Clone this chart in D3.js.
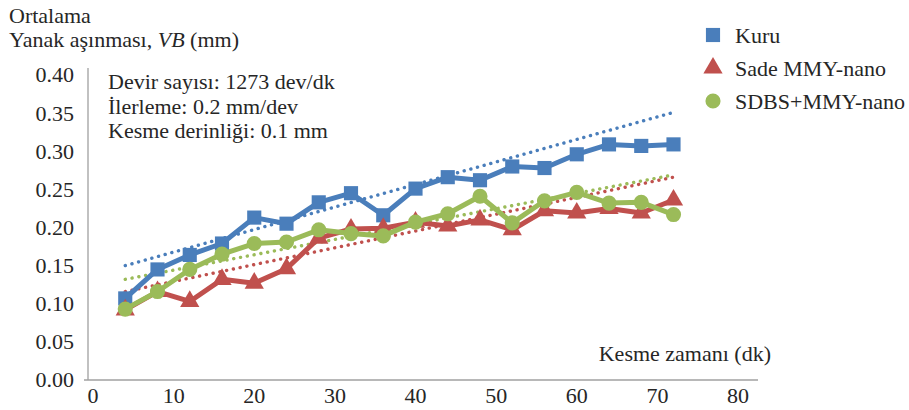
<!DOCTYPE html>
<html>
<head>
<meta charset="utf-8">
<script src="https://cdn.jsdelivr.net/npm/d3@7"></script>
<style>
    body { margin: 0; background: #fff; }
</style>
</head>
<body>
<div id="chart"></div>
<script>

//******************************************************************************
//**  Data
//******************************************************************************
var times = [4, 8, 12, 16, 20, 24, 28, 32, 36, 40, 44, 48, 52, 56, 60, 64, 68, 72];
var kuru = [0.107, 0.145, 0.164, 0.179, 0.213, 0.205, 0.233, 0.245, 0.216, 0.251, 0.266, 0.262, 0.280, 0.278, 0.296, 0.309, 0.307, 0.309];
var sade = [0.092, 0.116, 0.103, 0.132, 0.127, 0.146, 0.186, 0.198, 0.199, 0.207, 0.202, 0.210, 0.197, 0.222, 0.219, 0.225, 0.219, 0.236];
var sdbs = [0.093, 0.116, 0.145, 0.165, 0.179, 0.181, 0.197, 0.192, 0.189, 0.207, 0.218, 0.241, 0.206, 0.235, 0.246, 0.232, 0.233, 0.217];
var seriesNames = ["Kuru", "Sade MMY-nano", "SDBS+MMY-nano"];

//trend line end values (at first and last time) as drawn in the figure
var kuruTrend = [0.150, 0.351];
var sadeTrend = [0.116, 0.266];
var sdbsTrend = [0.132, 0.269];

var xTicks = [0, 10, 20, 30, 40, 50, 60, 70, 80];
var yTicks = [0, 0.05, 0.10, 0.15, 0.20, 0.25, 0.30, 0.35, 0.40];
var notes = ["Devir sayısı: 1273 dev/dk", "İlerleme: 0.2 mm/dev", "Kesme derinliği: 0.1 mm"];

var series = [
    {name: seriesNames[0], values: kuru, trend: kuruTrend, color: "#4a7ebb", symbol: d3.symbolSquare, size: 200},
    {name: seriesNames[1], values: sade, trend: sadeTrend, color: "#c0504d", symbol: d3.symbolTriangle, size: 160},
    {name: seriesNames[2], values: sdbs, trend: sdbsTrend, color: "#9bbb59", symbol: d3.symbolCircle, size: 180}
];


//******************************************************************************
//**  Chart
//******************************************************************************
var width = 909, height = 410;
var font = "'Liberation Serif', 'Times New Roman', serif";

var svg = d3.select("#chart").append("svg")
    .attr("width", width)
    .attr("height", height);

var x = d3.scaleLinear().domain([0, 80]).range([93, 738]);
var y = d3.scaleLinear().domain([0, 0.4]).range([380, 75]);

var addText = function(g){
    return g.append("text")
        .style("font-family", font)
        .style("font-size", "22px")
        .style("fill", "#262626");
};


  //Axis lines
    svg.append("line")
        .attr("x1", 88).attr("x2", 88)
        .attr("y1", 68).attr("y2", y(0))
        .style("stroke", "#a0a0a0").style("stroke-width", 1.3);

    svg.append("line")
        .attr("x1", 84).attr("x2", 758)
        .attr("y1", y(0)).attr("y2", y(0))
        .style("stroke", "#a0a0a0").style("stroke-width", 1.3);


  //Tick labels
    yTicks.forEach(function(d){
        addText(svg)
            .attr("x", 74)
            .attr("y", y(d))
            .attr("dy", "0.34em")
            .attr("text-anchor", "end")
            .text(d3.format(".2f")(d));
    });

    xTicks.forEach(function(d){
        addText(svg)
            .attr("x", x(d))
            .attr("y", 403)
            .attr("text-anchor", "middle")
            .text(d);
    });


  //Axis titles
    addText(svg)
        .attr("x", 9).attr("y", 23)
        .text("Ortalama");

    var yTitle = addText(svg)
        .attr("x", 9).attr("y", 47);
    yTitle.append("tspan").text("Yanak aşınması, ");
    yTitle.append("tspan").style("font-style", "italic").text("VB");
    yTitle.append("tspan").text(" (mm)");

    addText(svg)
        .attr("x", 771).attr("y", 361)
        .attr("text-anchor", "end")
        .text("Kesme zamanı (dk)");


  //Notes
    notes.forEach(function(d, i){
        addText(svg)
            .attr("x", 108)
            .attr("y", 89 + i * 24.5)
            .text(d);
    });


  //Trend lines
    var line = d3.line()
        .x(function(d){ return x(d[0]); })
        .y(function(d){ return y(d[1]); });

    series.forEach(function(s){
        var ends = [[times[0], s.trend[0]], [times[times.length - 1], s.trend[1]]];
        svg.append("path")
            .datum(ends)
            .attr("d", line)
            .style("fill", "none")
            .style("stroke", s.color)
            .style("stroke-width", 3.4)
            .style("stroke-linecap", "round")
            .style("stroke-dasharray", "0.1 6.8");
    });


  //Data lines
    series.forEach(function(s){
        var pts = times.map(function(t, i){ return [t, s.values[i]]; });

        svg.append("path")
            .datum(pts)
            .attr("d", line)
            .style("fill", "none")
            .style("stroke", s.color)
            .style("stroke-width", 5)
            .style("stroke-linejoin", "round");

        svg.append("g").selectAll("path")
            .data(pts)
            .enter()
            .append("path")
            .attr("transform", function(d){ return "translate(" + x(d[0]) + "," + y(d[1]) + ")"; })
            .attr("d", d3.symbol().type(s.symbol).size(s.size))
            .style("fill", s.color);
    });


  //Legend
    var legend = svg.append("g").selectAll("g")
        .data(series)
        .enter()
        .append("g")
        .attr("transform", function(d, i){ return "translate(713," + (35 + i * 33) + ")"; });

    legend.append("path")
        .attr("d", function(d){ return d3.symbol().type(d.symbol).size(d.size)(); })
        .style("fill", function(d){ return d.color; });

    legend.each(function(d){
        addText(d3.select(this))
            .attr("x", 22)
            .attr("dy", "0.35em")
            .text(d.name);
    });

</script>
</body>
</html>
